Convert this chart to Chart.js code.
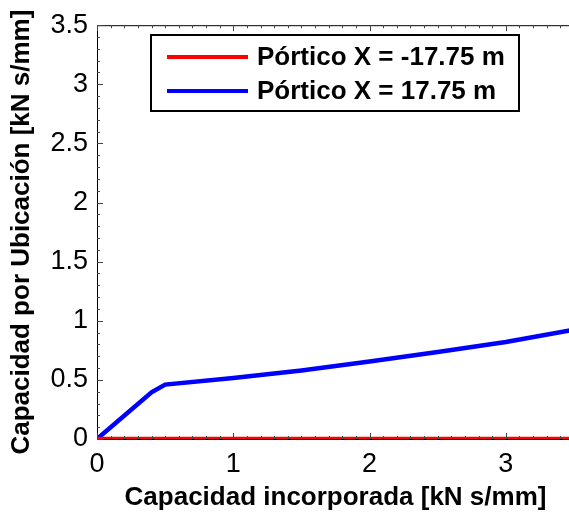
<!DOCTYPE html>
<html>
<head>
<meta charset="utf-8">
<script src="https://cdn.jsdelivr.net/npm/chart.js@4/dist/chart.umd.min.js"></script>
<style>
  html, body { margin: 0; padding: 0; background: #fff; overflow: hidden; }
  #wrap { width: 580px; height: 513px; }
</style>
</head>
<body>
<div id="wrap"><canvas id="capChart" width="580" height="513"></canvas></div>
<script>
// datos
const capIncorporada = [0, 0.4, 0.5, 1.0, 1.5, 2.0, 2.5, 3.0, 3.5];
const porticoNeg = [0, 0, 0, 0, 0, 0, 0, 0, 0];
const porticoPos = [0, 0.395, 0.46, 0.515, 0.58, 0.655, 0.735, 0.82, 0.925];
const seriesLabels = ["Pórtico X = -17.75 m", "Pórtico X = 17.75 m"];
const xTicks = [0, 1, 2, 3];
const yTicks = [0, 0.5, 1, 1.5, 2, 2.5, 3, 3.5];

const toPoints = ys => capIncorporada.map((x, i) => ({ x: x, y: ys[i] }));
const FONT = "'Liberation Sans', Arial, sans-serif";

// ticks hacia adentro y marco estilo MATLAB
const frameTicks = {
    id: "frameTicks",
    afterDatasetsDraw(chart) {
        const { ctx, chartArea: a, scales } = chart;
        const xs = scales.x, ys = scales.y;
        ctx.save();
        ctx.strokeStyle = "#000";
        ctx.lineWidth = 1;
        ctx.beginPath();
        ctx.moveTo(a.left + 0.5, a.bottom);
        ctx.lineTo(a.left + 0.5, a.top + 0.5);
        ctx.lineTo(a.right, a.top + 0.5);
        ctx.stroke();
        ctx.strokeStyle = "#444";
        for (let i = 0; i <= 35; i++) {
            const v = i / 10;
            const px = Math.round(xs.getPixelForValue(v)) + 0.5;
            const len = i % 10 === 0 ? 6 : 3;
            ctx.beginPath();
            ctx.moveTo(px, a.bottom); ctx.lineTo(px, a.bottom - len);
            ctx.moveTo(px, a.top); ctx.lineTo(px, a.top + len);
            ctx.stroke();
            const py = Math.round(ys.getPixelForValue(v)) + 0.5;
            const lenY = i % 5 === 0 ? 6 : 3;
            ctx.beginPath();
            ctx.moveTo(a.left, py); ctx.lineTo(a.left + lenY, py);
            ctx.stroke();
        }
        ctx.restore();
    }
};

// leyenda con recuadro dentro del area
const boxLegend = {
    id: "boxLegend",
    afterDraw(chart) {
        const { ctx } = chart;
        const left = 151, top = 35, w = 368, h = 76;
        ctx.save();
        ctx.fillStyle = "#fff";
        ctx.fillRect(left, top, w, h);
        ctx.strokeStyle = "#000";
        ctx.lineWidth = 2;
        ctx.strokeRect(left, top, w, h);
        ctx.font = "bold 26px " + FONT;
        ctx.textBaseline = "middle";
        chart.data.datasets.forEach((ds, i) => {
            const y = top + 22 + i * 34;
            ctx.strokeStyle = ds.borderColor;
            ctx.lineWidth = 4;
            ctx.beginPath();
            ctx.moveTo(167, y); ctx.lineTo(248, y);
            ctx.stroke();
            ctx.fillStyle = "#000";
            ctx.fillText(ds.label, 257, y + 1);
        });
        ctx.restore();
    }
};

new Chart(document.getElementById("capChart"), {
    type: "line",
    data: {
        datasets: [
            { label: seriesLabels[0], data: toPoints(porticoNeg), borderColor: "#ff0000", borderWidth: 4.5, pointRadius: 0, tension: 0 },
            { label: seriesLabels[1], data: toPoints(porticoPos), borderColor: "#0000ff", borderWidth: 4.5, pointRadius: 0, tension: 0 }
        ]
    },
    options: {
        responsive: false,
        animation: false,
        layout: { padding: { left: 0, right: 6, top: 23, bottom: 0 } },
        plugins: { legend: { display: false }, tooltip: { enabled: false } },
        scales: {
            x: {
                type: "linear", min: 0, max: 3.5,
                afterBuildTicks: s => { s.ticks = xTicks.map(v => ({ value: v })); },
                afterFit: s => { s.height = 74; },
                grid: { display: false, drawTicks: false },
                border: { display: true, color: "#000", width: 1 },
                ticks: { color: "#000", padding: 9, callback: v => String(v), font: { family: FONT, size: 27 } },
                title: { display: true, text: "Capacidad incorporada [kN s/mm]", color: "#000", padding: { top: 0, bottom: 0 }, font: { family: FONT, size: 26, weight: "bold" } }
            },
            y: {
                type: "linear", min: 0, max: 3.5,
                afterBuildTicks: s => { s.ticks = yTicks.map(v => ({ value: v })); },
                afterFit: s => { s.width = 97; },
                grid: { display: false, drawTicks: false },
                border: { display: true, color: "#000", width: 1 },
                ticks: { color: "#000", padding: 9, callback: v => String(v), font: { family: FONT, size: 27 } },
                title: { display: true, text: "Capacidad por Ubicación [kN s/mm]", color: "#000", padding: { top: 6, bottom: 0 }, font: { family: FONT, size: 26, weight: "bold" } }
            }
        }
    },
    plugins: [frameTicks, boxLegend]
});
</script>
</body>
</html>
